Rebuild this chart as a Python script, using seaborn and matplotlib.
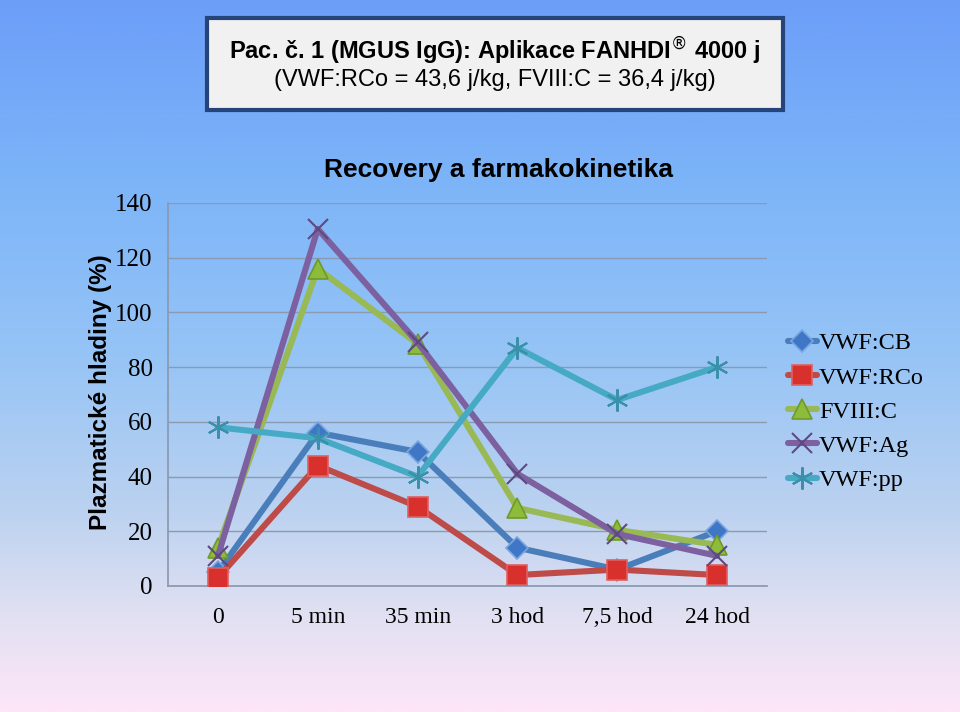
import numpy as np
import pandas as pd
import matplotlib
matplotlib.use("Agg")
import matplotlib.pyplot as plt
from matplotlib.colors import LinearSegmentedColormap
from matplotlib.patches import Rectangle
import seaborn as sns

# ---- data ----
categories = ["0", "5 min", "35 min", "3 hod", "7,5 hod", "24 hod"]
vwf_cb = [5, 56, 49, 14, 6, 20]
vwf_rco = [3, 44, 29, 4, 6, 4]
fviii_c = [14, 116, 88.5, 28.5, 20.5, 15]
vwf_ag = [11, 130.5, 89, 41, 19, 11]
vwf_pp = [58, 54, 40, 87, 68, 80]
series_names = ["VWF:CB", "VWF:RCo", "FVIII:C", "VWF:Ag", "VWF:pp"]
y_ticks = [0, 20, 40, 60, 80, 100, 120, 140]

df = pd.DataFrame({
    "cas": categories * 5,
    "hodnota": vwf_cb + vwf_rco + fviii_c + vwf_ag + vwf_pp,
    "serie": [n for n in series_names for _ in categories],
})

colors = {"VWF:CB": "#4a7ebb", "VWF:RCo": "#be4b48", "FVIII:C": "#98b954",
          "VWF:Ag": "#7d60a0", "VWF:pp": "#46aac5"}
markers = {"VWF:CB": "D", "VWF:RCo": "s", "FVIII:C": "^",
           "VWF:Ag": "x", "VWF:pp": (6, 2, 0)}
msizes = {"VWF:CB": 11, "VWF:RCo": 14, "FVIII:C": 14, "VWF:Ag": 15, "VWF:pp": 16}
mfaces = {"VWF:CB": "#3f77c6", "VWF:RCo": "#d8302c", "FVIII:C": "#8dbb3a",
          "VWF:Ag": "#7d60a0", "VWF:pp": "#46aac5"}
medges = {"VWF:CB": "#7aa6e0", "VWF:RCo": "#e06060", "FVIII:C": "#6f9a2a",
          "VWF:Ag": "#5e4a80", "VWF:pp": "#3a90a8"}

sns.set_theme(style="white")
plt.rcParams["font.family"] = ["Liberation Serif", "DejaVu Serif"]
plt.rcParams["text.color"] = "black"
plt.rcParams["axes.labelcolor"] = "black"

fig = plt.figure(figsize=(9.6, 7.12), dpi=100)

# background gradient
bg = fig.add_axes([0, 0, 1, 1], zorder=-10)
cmap = LinearSegmentedColormap.from_list("bg", [
    (0.0, "#6c9ef8"), (0.25, "#7cb4f8"), (0.5, "#96c4f6"),
    (0.72, "#bcd2f0"), (0.86, "#e0e0f2"), (1.0, "#fde6f8")])
grad = np.linspace(0, 1, 512).reshape(-1, 1)
bg.imshow(grad, aspect="auto", cmap=cmap, extent=[0, 1, 0, 1], origin="upper")
bg.set_axis_off()

# title box
fig.patches.append(Rectangle((0.2156, 0.8455), 0.6, 0.1292, transform=fig.transFigure,
                             facecolor="#f1f1f1", edgecolor="#24447a", linewidth=3, zorder=5))
fig.text(0.5156, 0.929, r"Pac. č. 1 (MGUS IgG): Aplikace FANHDI$^{®}$ 4000 j",
         ha="center", va="center", fontsize=17, fontweight="bold", color="black",
         family=["Liberation Sans", "DejaVu Sans"], zorder=6)
fig.text(0.5156, 0.887, "(VWF:RCo = 43,6 j/kg, FVIII:C = 36,4 j/kg)",
         ha="center", va="center", fontsize=17, color="black",
         family=["Liberation Sans", "DejaVu Sans"], zorder=6)

ax = fig.add_axes([0.175, 0.177, 0.624, 0.538])
ax.set_facecolor("none")

for name in series_names:
    sub = df[df["serie"] == name]
    sns.lineplot(data=sub, x="cas", y="hodnota", ax=ax, color=colors[name],
                 linewidth=4.4, marker=markers[name], markersize=msizes[name],
                 markerfacecolor=mfaces[name], markeredgecolor=medges[name],
                 markeredgewidth=1.2 if name in ("VWF:CB", "VWF:RCo", "FVIII:C") else 1.5,
                 label=name, sort=False, zorder=3)

ax.set_ylim(0, 140)
ax.set_xlim(-0.5, 5.5)
ax.set_yticks(y_ticks)
ax.set_xlabel("")
ax.set_ylabel("Plazmatické hladiny (%)", fontsize=17.5, fontweight="bold", color="black",
              family=["Liberation Sans", "DejaVu Sans"])
ax.yaxis.set_label_coords(-0.094, 0.507)
ax.grid(axis="y", color="#8a9ab0", linewidth=1)
ax.grid(axis="x", visible=False)
for s in ["top", "right"]:
    ax.spines[s].set_visible(False)
ax.spines["left"].set_color("#8a9ab0")
ax.spines["bottom"].set_color("#8a9ab0")
ax.tick_params(axis="both", length=0, colors="black")
ax.tick_params(axis="y", pad=11, labelsize=18)
ax.tick_params(axis="x", pad=15, labelsize=17)

ax.set_title("Recovery a farmakokinetika", fontsize=19, fontweight="bold", color="black",
             family=["Liberation Sans", "DejaVu Sans"], pad=19, x=0.551)

leg = ax.legend(loc="center left", bbox_to_anchor=(1.01, 0.455), frameon=False,
                fontsize=17.5, handlelength=1.2, handletextpad=0.1, labelspacing=0.5,
                borderaxespad=0.2)
for t in leg.get_texts():
    t.set_color("black")

fig.savefig("out.png", dpi=100)
